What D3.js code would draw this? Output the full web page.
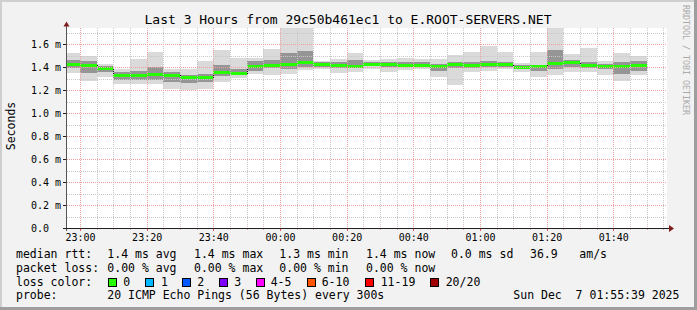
<!DOCTYPE html>
<html><head><meta charset="utf-8">
<script src="https://cdn.jsdelivr.net/npm/d3@7"></script>
<style>
body{margin:0;background:#f2f2f2}
svg{display:block}
text{font-family:"DejaVu Sans Mono",monospace;white-space:pre;fill:#000}
</style>
</head><body>
<svg id="c" width="697" height="310"></svg>
<script>
// ---- data ----
const barStarts = ["22:55","23:00","23:05","23:10","23:15","23:20","23:25","23:30","23:35","23:40","23:45","23:50","23:55",
  "00:00","00:05","00:10","00:15","00:20","00:25","00:30","00:35","00:40","00:45","00:50","00:55",
  "01:00","01:05","01:10","01:15","01:20","01:25","01:30","01:35","01:40","01:45"];
const medians  = [1.423,1.417,1.394,1.335,1.330,1.339,1.333,1.315,1.315,1.358,1.350,1.412,1.421,
  1.423,1.440,1.423,1.420,1.412,1.430,1.423,1.420,1.420,1.412,1.425,1.420,
  1.428,1.425,1.400,1.406,1.438,1.447,1.420,1.409,1.412,1.420];
const smokeMax = [1.52,1.50,1.426,1.385,1.472,1.533,1.385,1.385,1.452,1.548,1.478,1.475,1.555,
  1.80,1.80,1.449,1.472,1.522,1.458,1.472,1.481,1.467,1.467,1.505,1.528,
  1.583,1.528,1.438,1.530,1.80,1.510,1.565,1.449,1.522,1.500];
const smokeHi  = [1.46,1.45,1.41,1.36,1.37,1.40,1.36,1.33,1.34,1.42,1.38,1.45,1.46,
  1.52,1.54,1.44,1.44,1.46,1.44,1.44,1.44,1.44,1.43,1.44,1.44,
  1.45,1.44,1.42,1.42,1.55,1.46,1.44,1.43,1.44,1.45];
const smokeLo  = [1.39,1.35,1.36,1.29,1.29,1.29,1.27,1.26,1.27,1.32,1.33,1.37,1.39,
  1.38,1.40,1.40,1.39,1.39,1.41,1.40,1.40,1.40,1.37,1.39,1.39,
  1.40,1.40,1.38,1.37,1.38,1.40,1.39,1.38,1.34,1.37];
const smokeMin = [1.345,1.28,1.31,1.25,1.25,1.25,1.213,1.20,1.21,1.27,1.307,1.337,1.332,
  1.342,1.371,1.385,1.35,1.357,1.38,1.357,1.377,1.385,1.315,1.24,1.357,
  1.37,1.38,1.357,1.313,1.333,1.357,1.357,1.333,1.278,1.328];
const yTicks = [0,0.2,0.4,0.6,0.8,1.0,1.2,1.4,1.6];
const yTickLabels = ["0.0","0.2 m","0.4 m","0.6 m","0.8 m","1.0 m","1.2 m","1.4 m","1.6 m"];
const xTickLabels = ["23:00","23:20","23:40","00:00","00:20","00:40","01:00","01:20","01:40"];
const lossLabels = ["0","1","2","3","4-5","6-10","11-19","20/20"];
const lossColors = ["#26ff00","#00b8ff","#0059ff","#7e00ff","#ff00ff","#ff5500","#ff0000","#a10000"];
const rttLegend = ["1.4 ms avg","1.4 ms max","1.3 ms min","1.4 ms now","0.0 ms sd","36.9","am/s"];
const lossLegend = ["0.00 % avg","0.00 % max","0.00 % min","0.00 % now"];
const title = "Last 3 Hours from 29c50b461ec1 to E.ROOT-SERVERS.NET";

// ---- helpers ----
const tp = s => { const [h,m] = s.split(":").map(Number); return new Date(Date.UTC(2025,11,h>=12?6:7,h,m)); };
const svg = d3.select("#c");
const L = 67, R = 667, T = 28, B = 228;
const x = d3.scaleUtc().domain([new Date(Date.UTC(2025,11,6,22,56)), new Date(Date.UTC(2025,11,7,1,56))]).range([66.67,666.67]);
const y = d3.scaleLinear().domain([0,1.74]).range([B,T]);
const px = v => Math.round(x(v));
const py = v => Math.round(y(v));

// background + frame
svg.append("rect").attr("width",697).attr("height",310).attr("fill","#f2f2f2");
svg.append("rect").attr("x",0).attr("y",0).attr("width",697).attr("height",2).attr("fill","#cfcfcf");
svg.append("rect").attr("x",0).attr("y",0).attr("width",2).attr("height",310).attr("fill","#cfcfcf");
svg.append("rect").attr("x",0).attr("y",307).attr("width",697).attr("height",3).attr("fill","#9e9e9e");
svg.append("rect").attr("x",694).attr("y",0).attr("width",3).attr("height",310).attr("fill","#9e9e9e");
svg.append("rect").attr("x",L).attr("y",T).attr("width",R-L).attr("height",B-T).attr("fill","#fff");

svg.append("clipPath").attr("id","cp").append("rect").attr("x",L).attr("y",T).attr("width",R-L).attr("height",B-T);
const plot = svg.append("g").attr("clip-path","url(#cp)");

const bars = barStarts.map((s,i)=>{ const t0 = tp(s); return {t0, t1:new Date(+t0+300000), i}; });

// smoke
const band = (lo,hi,col)=> plot.append("g").selectAll("rect").data(bars).join("rect")
  .attr("x",d=>px(d.t0)).attr("width",d=>px(d.t1)-px(d.t0))
  .attr("y",d=>py(hi[d.i])).attr("height",d=>Math.max(0,py(lo[d.i])-py(hi[d.i])))
  .attr("fill",col).attr("shape-rendering","crispEdges");
band(smokeMin,smokeMax,"#dadada");
band(smokeLo,smokeHi,"#959595");

// grid
const gridG = svg.append("g").attr("shape-rendering","crispEdges");
const minorX = d3.utcMinute.every(5).range(x.domain()[0], x.domain()[1]);
gridG.selectAll(".vx").data(minorX).join("line")
  .attr("x1",d=>px(d)+0.5).attr("x2",d=>px(d)+0.5).attr("y1",T).attr("y2",B)
  .attr("stroke",d=>d.getUTCMinutes()%20===0?"#f0a0a0":"#c8c8c8").attr("stroke-dasharray","1,1");
const minorY = d3.range(1,18).map(k=>k/10);
gridG.selectAll(".hy").data(minorY).join("line")
  .attr("x1",L).attr("x2",R).attr("y1",d=>py(d)+0.5).attr("y2",d=>py(d)+0.5)
  .attr("stroke",d=>Math.round(d*10)%2===0?"#f0a0a0":"#c8c8c8").attr("stroke-dasharray","1,1");

// median: dark step line + green segments
let dpath = "";
bars.forEach((d,k)=>{
  const yy = py(medians[d.i])+0.5;
  dpath += (k===0?"M":"L")+px(d.t0)+","+yy+"L"+px(d.t1)+","+yy;
});
plot.append("path").attr("d",dpath).attr("fill","none").attr("stroke","#1a1a1a").attr("stroke-width",1).attr("shape-rendering","crispEdges");
plot.append("g").selectAll("rect").data(bars).join("rect")
  .attr("x",d=>px(d.t0)).attr("width",d=>px(d.t1)-px(d.t0))
  .attr("y",d=>py(medians[d.i])-1).attr("height",3)
  .attr("fill",lossColors[0]).attr("shape-rendering","crispEdges");

// axes
const xTickDates = xTickLabels.map(tp);
const xAxis = d3.axisBottom(x).tickValues(xTickDates).tickFormat((d,i)=>xTickLabels[i]).tickSize(0).tickPadding(0);
const gx = svg.append("g").attr("transform",`translate(0,${B})`).call(xAxis);
gx.select(".domain").remove();
gx.selectAll("text").attr("y",13).attr("dy",0).attr("font-size","10px").attr("font-family","DejaVu Sans Mono");

const yAxis = d3.axisLeft(y).tickValues(yTicks).tickFormat((d,i)=>yTickLabels[i]).tickSize(0).tickPadding(0);
const gy = svg.append("g").attr("transform",`translate(${L},0)`).call(yAxis);
gy.select(".domain").remove();
gy.selectAll("text").attr("text-anchor","start").attr("x",31-L).attr("dy","0.35em").attr("font-size","10px").attr("font-family","DejaVu Sans Mono");

// tick marks
svg.append("g").attr("shape-rendering","crispEdges").selectAll("line").data(yTicks).join("line")
  .attr("x1",63).attr("x2",67).attr("y1",d=>py(d)+0.5).attr("y2",d=>py(d)+0.5).attr("stroke","#1f1f1f");
svg.append("g").attr("shape-rendering","crispEdges").selectAll("line").data(minorX).join("line")
  .attr("x1",d=>px(d)+0.5).attr("x2",d=>px(d)+0.5).attr("y1",B).attr("y2",d=>d.getUTCMinutes()%20===0?B+3:B+2)
  .attr("stroke",d=>d.getUTCMinutes()%20===0?"#de4f4f":"#e8a0a0");

// axis lines
svg.append("line").attr("x1",66.5).attr("x2",66.5).attr("y1",25).attr("y2",B+3).attr("stroke","#555").attr("shape-rendering","crispEdges");
svg.append("line").attr("x1",63).attr("x2",670).attr("y1",B+0.5).attr("y2",B+0.5).attr("stroke","#1f1f1f").attr("shape-rendering","crispEdges");
svg.append("path").attr("d","M63.5,26.5L66.5,21.5L69.5,26.5Z").attr("fill","#801f1f");
svg.append("path").attr("d","M669,225L674,228.5L669,232Z").attr("fill","#801f1f");

// title
svg.append("text").attr("x",348).attr("y",24).attr("text-anchor","middle").attr("font-size","13px").text(title);
// y label
svg.append("text").attr("transform","translate(15,126) rotate(-90)").attr("text-anchor","middle").attr("font-size","11.5px").text("Seconds");
// watermark
svg.append("text").attr("transform","translate(683,5) rotate(90)").attr("text-anchor","start").attr("font-size","8.3px").style("fill","#aaaaaa").text("RRDTOOL / TOBI OETIKER");

// legend
const fs = "11.5px";
const lg = svg.append("g").attr("font-size",fs);
const colX = [107.3,194,279.3,366,451,530,579.3];
lg.append("text").attr("x",16).attr("y",258).text("median rtt:");
rttLegend.forEach((t,i)=>lg.append("text").attr("x",colX[i]).attr("y",258).text(t));
lg.append("text").attr("x",16).attr("y",271.5).text("packet loss:");
lossLegend.forEach((t,i)=>lg.append("text").attr("x",colX[i]).attr("y",271.5).text(t));
lg.append("text").attr("x",16).attr("y",285.5).text("loss color:");
const boxX = [108.5,145.5,182.5,219.5,256.5,307.5,365.5,430.5];
const labX = [123.3,161,197.3,234.3,270.7,321.7,380.7,445.7];
lossLabels.forEach((t,i)=>{
  lg.append("rect").attr("x",boxX[i]).attr("y",278.5).attr("width",8).attr("height",8).attr("fill",lossColors[i]).attr("stroke","#000").attr("shape-rendering","crispEdges");
  lg.append("text").attr("x",labX[i]).attr("y",285.5).text(t);
});
lg.append("text").attr("x",16).attr("y",299).text("probe:");
lg.append("text").attr("x",107.3).attr("y",299).text("20 ICMP Echo Pings (56 Bytes) every 300s");
lg.append("text").attr("x",513.3).attr("y",299).text("Sun Dec  7 01:55:39 2025");
</script>
</body></html>
